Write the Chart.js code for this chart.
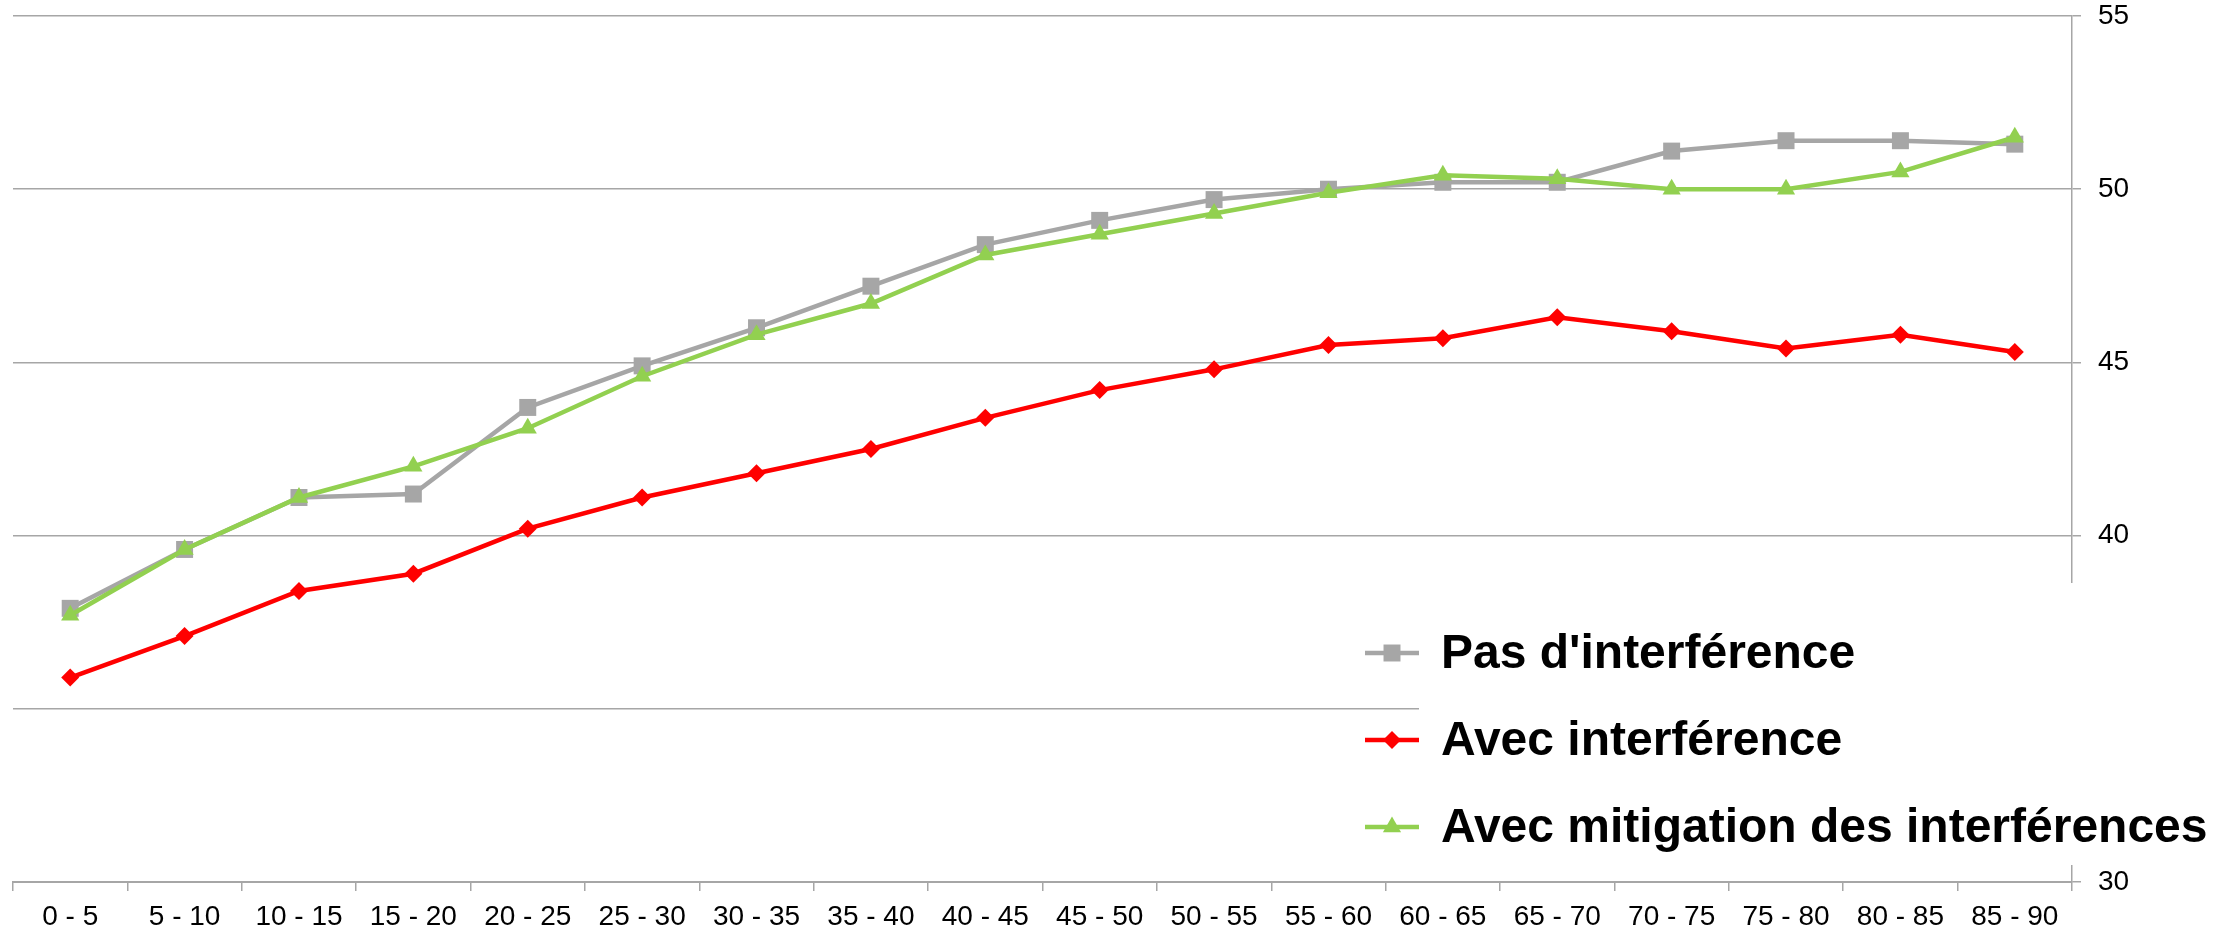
<!DOCTYPE html>
<html>
<head>
<meta charset="utf-8">
<title>Interférences</title>
<script src="https://cdn.jsdelivr.net/npm/chart.js@4/dist/chart.umd.min.js"></script>
<style>
  html, body { margin: 0; padding: 0; background: #ffffff; }
  #wrap { width: 2228px; height: 937px; }
</style>
</head>
<body>
<div id="wrap"><canvas id="chart" width="2228" height="937"></canvas></div>
<script>
// Tranches (catégories de l'axe horizontal)
const categories = ['0 - 5', '5 - 10', '10 - 15', '15 - 20', '20 - 25', '25 - 30',
  '30 - 35', '35 - 40', '40 - 45', '45 - 50', '50 - 55', '55 - 60',
  '60 - 65', '65 - 70', '70 - 75', '75 - 80', '80 - 85', '85 - 90'];

// Séries
const pasInterference = [37.9, 39.6, 41.1, 41.2, 43.7, 44.9, 46.0, 47.2, 48.4, 49.1,
  49.7, 50.0, 50.2, 50.2, 51.1, 51.4, 51.4, 51.3];
const avecInterference = [35.9, 37.1, 38.4, 38.9, 40.2, 41.1, 41.8, 42.5, 43.4, 44.2,
  44.8, 45.5, 45.7, 46.3, 45.9, 45.4, 45.8, 45.3];
const avecMitigation = [37.7, 39.6, 41.1, 42.0, 43.1, 44.6, 45.8, 46.7, 48.1, 48.7,
  49.3, 49.9, 50.4, 50.3, 50.0, 50.0, 50.5, 51.5];

const seriesLabels = ["Pas d'interférence", 'Avec interférence', 'Avec mitigation des interférences'];

// Axe vertical (à droite)
const yMin = 30;
const yMax = 55;
const yStep = 5;

const FONT = "'Liberation Sans', Arial, Helvetica, sans-serif";
const GRID = '#a6a6a6';

// Légende dessinée à la main : trait + marqueur, sur un fond blanc
const lineLegend = {
  id: 'lineLegend',
  afterDraw(chart) {
    const ctx = chart.ctx;
    const boxLeft = 1419, boxTop = 583, boxBottom = 865;
    ctx.save();
    ctx.fillStyle = '#ffffff';
    ctx.fillRect(boxLeft, boxTop, chart.width - boxLeft, boxBottom - boxTop);

    const rows = [653, 740, 827];
    const symLeft = 1365, symRight = 1419, textX = 1441;
    chart.data.datasets.forEach((ds, i) => {
      const y = rows[i];
      ctx.strokeStyle = ds.borderColor;
      ctx.lineWidth = ds.borderWidth;
      ctx.lineCap = 'butt';
      ctx.beginPath();
      ctx.moveTo(symLeft, y);
      ctx.lineTo(symRight, y);
      ctx.stroke();
      ctx.fillStyle = ds.pointBackgroundColor;
      Chart.helpers.drawPoint(ctx, {
        pointStyle: ds.pointStyle,
        radius: ds.pointRadius,
        borderWidth: 0,
        rotation: 0
      }, (symLeft + symRight) / 2, y);

      ctx.fillStyle = '#000000';
      ctx.font = 'bold 48px ' + FONT;
      ctx.textAlign = 'left';
      ctx.textBaseline = 'alphabetic';
      ctx.fillText(ds.label, textX, y + 15);
    });
    ctx.restore();
  }
};

new Chart(document.getElementById('chart'), {
  type: 'line',
  data: {
    labels: categories,
    datasets: [
      {
        label: seriesLabels[0],
        data: pasInterference,
        borderColor: '#a6a6a6',
        backgroundColor: '#a6a6a6',
        pointBackgroundColor: '#a6a6a6',
        borderWidth: 4.5,
        pointStyle: 'rect',
        pointRadius: 12,
        pointBorderWidth: 0,
        order: 2
      },
      {
        label: seriesLabels[1],
        data: avecInterference,
        borderColor: '#ff0000',
        backgroundColor: '#ff0000',
        pointBackgroundColor: '#ff0000',
        borderWidth: 4.5,
        pointStyle: 'rectRot',
        pointRadius: 9,
        pointBorderWidth: 0,
        order: 1
      },
      {
        label: seriesLabels[2],
        data: avecMitigation,
        borderColor: '#92d050',
        backgroundColor: '#92d050',
        pointBackgroundColor: '#92d050',
        borderWidth: 4.5,
        pointStyle: 'triangle',
        pointRadius: 10.5,
        pointBorderWidth: 0,
        order: 0
      }
    ]
  },
  options: {
    responsive: false,
    animation: false,
    devicePixelRatio: 1,
    layout: { padding: { top: 16, left: 13, right: 0, bottom: 0 } },
    elements: { line: { tension: 0, fill: false } },
    plugins: {
      legend: { display: false },
      tooltip: { enabled: false },
      title: { display: false }
    },
    scales: {
      x: {
        type: 'category',
        offset: true,
        afterFit(scale) {
          scale.height = 55;
          scale.paddingLeft = 0;
          scale.paddingRight = 0;
        },
        grid: {
          display: true,
          offset: true,
          drawOnChartArea: false,
          drawTicks: true,
          tickLength: 9,
          color: GRID,
          lineWidth: 1.5
        },
        border: { display: true, color: GRID, width: 2 },
        ticks: {
          color: '#000000',
          font: { family: FONT, size: 28 },
          padding: 9,
          maxRotation: 0,
          autoSkip: false
        }
      },
      y: {
        position: 'right',
        min: yMin,
        max: yMax,
        afterFit(scale) {
          scale.width = 156;
          scale.paddingTop = 0;
          scale.paddingBottom = 0;
        },
        grid: {
          display: true,
          drawTicks: true,
          tickLength: 9,
          color: GRID,
          lineWidth: 1.5
        },
        border: { display: true, color: GRID, width: 1.5 },
        ticks: {
          stepSize: yStep,
          color: '#000000',
          font: { family: FONT, size: 28 },
          padding: 17
        }
      }
    }
  },
  plugins: [lineLegend]
});
</script>
</body>
</html>
